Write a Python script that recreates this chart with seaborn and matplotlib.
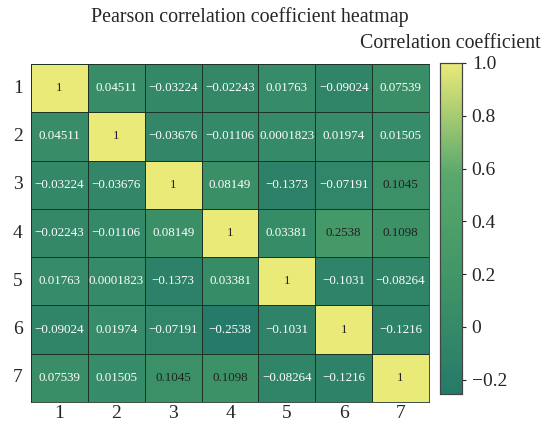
import numpy as np
import pandas as pd
import matplotlib
matplotlib.use("Agg")
import matplotlib.pyplot as plt
from matplotlib.colors import LinearSegmentedColormap
import seaborn as sns

labels = ["1", "2", "3", "4", "5", "6", "7"]
row1 = [1, 0.04511, -0.03224, -0.02243, 0.01763, -0.09024, 0.07539]
row2 = [0.04511, 1, -0.03676, -0.01106, 0.0001823, 0.01974, 0.01505]
row3 = [-0.03224, -0.03676, 1, 0.08149, -0.1373, -0.07191, 0.1045]
row4 = [-0.02243, -0.01106, 0.08149, 1, 0.03381, 0.2538, 0.1098]
row5 = [0.01763, 0.0001823, -0.1373, 0.03381, 1, -0.1031, -0.08264]
row6 = [-0.09024, 0.01974, -0.07191, -0.2538, -0.1031, 1, -0.1216]
row7 = [0.07539, 0.01505, 0.1045, 0.1098, -0.08264, -0.1216, 1]
cbar_ticks = [-0.2, 0, 0.2, 0.4, 0.6, 0.8, 1.0]
cbar_ticklabels = ["\u22120.2", "0", "0.2", "0.4", "0.6", "0.8", "1.0"]

corr = pd.DataFrame([row1, row2, row3, row4, row5, row6, row7],
                    index=labels, columns=labels)
annot = corr.map(lambda v: format(v, ".4g").replace("-", "\u2212"))

sns.set_theme(style="white")
plt.rcParams["font.family"] = ["Liberation Serif", "DejaVu Serif"]

cmap = LinearSegmentedColormap.from_list(
    "greenyellow", ["#267a69", "#3f9467", "#5aa86c", "#eaea78"])

fig = plt.figure(figsize=(5.51, 4.25), dpi=100)
ax = fig.add_axes([31 / 551, 1 - 402 / 425, 398 / 551, 338 / 425])
cax = fig.add_axes([440 / 551, 1 - 394 / 425, 22 / 551, 331 / 425])

sns.heatmap(corr, ax=ax, cbar_ax=cax, cmap=cmap,
            vmin=corr.values.min(), vmax=1.0,
            annot=annot, fmt="", annot_kws={"fontsize": 9.4},
            linewidths=0.5, linecolor="#1c3326")

# dark text on the light cells, white elsewhere
for txt, v in zip(ax.texts, corr.values.ravel()):
    txt.set_color("#222222" if v >= 0.1 else "white")

for spine in ax.spines.values():
    spine.set_visible(True)
    spine.set_edgecolor("#1c3326")
    spine.set_linewidth(0.6)

ax.tick_params(axis="x", length=0, labelsize=14, pad=2)
ax.tick_params(axis="y", length=0, labelsize=14, pad=6)
ax.set_yticklabels(labels, rotation=0)
ax.set_xticklabels(labels, rotation=0)
ax.set_xlabel("")
ax.set_ylabel("")

cax.set_yticks(cbar_ticks)
cax.set_yticklabels(cbar_ticklabels)
cax.tick_params(labelsize=14, length=3, width=0.8, pad=4)
for spine in cax.spines.values():
    spine.set_visible(True)
    spine.set_edgecolor("#444444")
    spine.set_linewidth(0.8)

fig.text(250 / 551, 1 - 17 / 425, "Pearson correlation coefficient heatmap",
         ha="center", va="center", fontsize=14.4)
fig.text(541 / 551, 1 - 43 / 425, "Correlation coefficient",
         ha="right", va="center", fontsize=14.3)

fig.savefig("out.png", dpi=100)
